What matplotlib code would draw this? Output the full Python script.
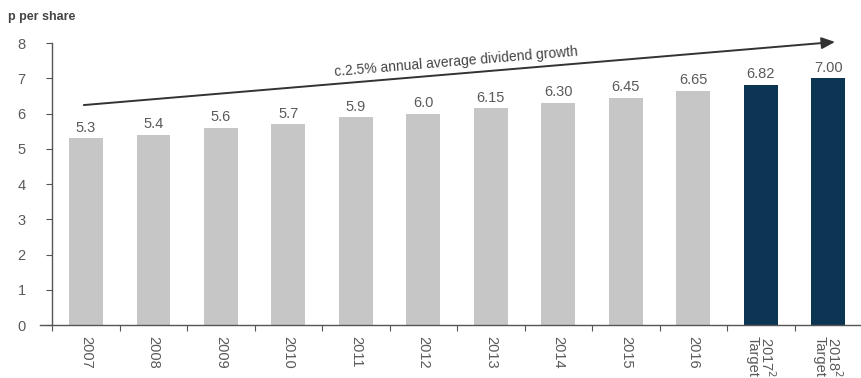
import matplotlib
matplotlib.use("Agg")
import matplotlib.pyplot as plt

plt.rcParams['font.family'] = ['Liberation Sans', 'DejaVu Sans']

years = ["2007", "2008", "2009", "2010", "2011", "2012", "2013", "2014",
         "2015", "2016", "2017$^{2}$\nTarget", "2018$^{2}$\nTarget"]
dividends = [5.3, 5.4, 5.6, 5.7, 5.9, 6.0, 6.15, 6.30, 6.45, 6.65, 6.82, 7.00]
value_labels = ["5.3", "5.4", "5.6", "5.7", "5.9", "6.0", "6.15", "6.30",
                "6.45", "6.65", "6.82", "7.00"]
is_target = [False] * 10 + [True] * 2
trend_text = "c.2.5% annual average dividend growth"

grey_bar = "#c6c6c6"
navy_bar = "#0c3553"
text_col = "#5a5a5a"
axis_col = "#555555"

fig = plt.figure(figsize=(8.62, 3.78), dpi=100)
ax = fig.add_axes([0.0464, 0.1402, 0.9536, 0.7460])

x = list(range(len(years)))
colors = [navy_bar if t else grey_bar for t in is_target]
ax.bar(x, dividends, width=0.5, color=colors, zorder=2)

for xi, v, lab in zip(x, dividends, value_labels):
    ax.text(xi, v + 0.1, lab, ha="center", va="bottom", fontsize=10.5,
            color=text_col)

ax.set_xlim(-0.68, 11.5)
ax.set_ylim(0, 8)
ax.set_yticks(range(0, 9))
ax.tick_params(axis="y", direction="out", length=4, width=0.8,
               colors=axis_col, labelsize=10.5, pad=15, labelcolor=text_col)

# category boundaries carry the x tick marks; labels sit at bar centres
ax.set_xticks([i - 0.5 for i in range(len(years) + 1)])
ax.set_xticklabels([])
ax.tick_params(axis="x", direction="out", length=4, width=0.8, colors=axis_col)
ax.set_xticks(x, minor=True)
ax.set_xticklabels(years, minor=True, rotation=270, fontsize=10.5,
                   color=text_col, va="top", ha="center", linespacing=0.85)
ax.tick_params(axis="x", which="minor", length=0, pad=8)

for side in ("top", "right"):
    ax.spines[side].set_visible(False)
ax.spines["left"].set_position(("data", -0.5))
ax.spines["left"].set_color(axis_col)
ax.spines["bottom"].set_color(axis_col)
ax.spines["left"].set_linewidth(1.0)
ax.spines["bottom"].set_linewidth(1.0)

# trend arrow with rotated caption
x0, y0, x1, y1 = -0.03, 6.24, 11.1, 8.03
ax.annotate("", xy=(x1, y1), xytext=(x0, y0),
            arrowprops=dict(arrowstyle="-|>,head_length=0.8,head_width=0.35",
                            color="#333333", lw=1.4, shrinkA=0, shrinkB=0),
            annotation_clip=False, zorder=3)
ax.text(5.5, 7.28, trend_text, ha="center", va="bottom", fontsize=10,
        color="#444444", rotation=4.8, rotation_mode="anchor")

fig.text(0.009, 0.955, "p per share", ha="left", va="center", fontsize=9,
         fontweight="bold", color="#444444")

fig.savefig("out.png", dpi=100)
